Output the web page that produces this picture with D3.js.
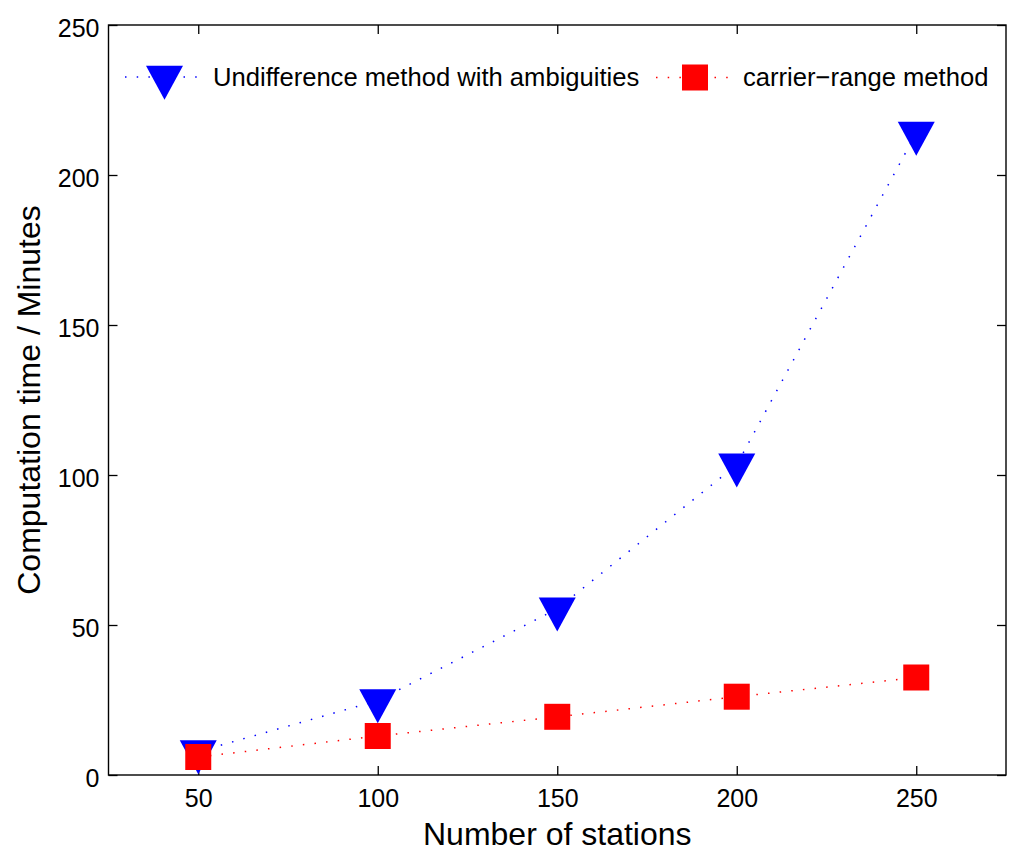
<!DOCTYPE html>
<html>
<head>
<meta charset="utf-8">
<script src="https://d3js.org/d3.v7.min.js"></script>
<style>
	body { margin: 0; background: #fff; }
	svg { display: block; font-family: "Liberation Sans", Arial, sans-serif; }
	.tick text { font-size: 25px; fill: #000; }
</style>
</head>
<body>
<svg id="chart" width="1024" height="861"></svg>
<script>
var stations = [50, 100, 150, 200, 250];
var undifference = [7.8, 24.8, 55.4, 103.4, 214];
var carrierRange = [6.0, 13.0, 19.4, 26.1, 32.5];
var xTicks = [50, 100, 150, 200, 250];
var yTicks = [0, 50, 100, 150, 200, 250];
var seriesNames = ["Undifference method with ambiguities", "carrier\u2212range method"];

var margin = {left: 108.5, right: 18, top: 25, bottom: 86};
var width = 1024 - margin.left - margin.right;
var height = 861 - margin.top - margin.bottom;

var svg = d3.select("#chart");
var g = svg.append("g")
	.attr("transform", "translate(" + margin.left + "," + margin.top + ")");

var x = d3.scaleLinear().domain([25, 275]).range([0, width]);
var y = d3.scaleLinear().domain([0, 250]).range([height, 0]);

// box with inward ticks on all four sides
function styleAxis(sel) {
	sel.select(".domain").remove();
	sel.selectAll(".tick line").attr("stroke", "#000").attr("stroke-width", 1.3);
}

g.append("g")
	.attr("transform", "translate(0," + height + ")")
	.call(d3.axisBottom(x).tickValues(xTicks).tickSizeInner(-9).tickPadding(14))
	.call(styleAxis);

g.append("g")
	.call(d3.axisTop(x).tickValues(xTicks).tickSizeInner(-9).tickFormat(""))
	.call(styleAxis);

g.append("g")
	.call(d3.axisLeft(y).tickValues(yTicks).tickSizeInner(-9).tickPadding(9))
	.call(styleAxis)
	.selectAll(".tick text")
	.attr("dy", "0.44em");

g.append("g")
	.attr("transform", "translate(" + width + ",0)")
	.call(d3.axisRight(y).tickValues(yTicks).tickSizeInner(-9).tickFormat(""))
	.call(styleAxis);

g.append("rect")
	.attr("width", width)
	.attr("height", height)
	.attr("fill", "none")
	.attr("stroke", "#000")
	.attr("stroke-width", 1.4);

// axis labels
svg.append("text")
	.attr("x", margin.left + width / 2)
	.attr("y", 845)
	.attr("text-anchor", "middle")
	.style("font-size", "32px")
	.text("Number of stations");

svg.append("text")
	.attr("transform", "translate(40," + (margin.top + height / 2) + ") rotate(-90)")
	.attr("text-anchor", "middle")
	.style("font-size", "32px")
	.text("Computation time / Minutes");

// series
var line = d3.line()
	.x(function(d) { return x(d[0]); })
	.y(function(d) { return y(d[1]); });

var blueData = d3.zip(stations, undifference);
var redData = d3.zip(stations, carrierRange);

var triW = 37, triH = 34, sq = 26;

function triangle(cx, cy) {
	return "M" + (cx - triW / 2) + "," + (cy - triH / 3) +
		"L" + (cx + triW / 2) + "," + (cy - triH / 3) +
		"L" + cx + "," + (cy + 2 * triH / 3) + "Z";
}

g.append("path")
	.datum(blueData)
	.attr("d", line)
	.attr("fill", "none")
	.attr("stroke", "#0000ff")
	.attr("stroke-width", 1.5)
	.attr("stroke-dasharray", "1.5,10.2");

g.selectAll(".tri")
	.data(blueData)
	.enter().append("path")
	.attr("class", "tri")
	.attr("d", function(d) { return triangle(x(d[0]), y(d[1])); })
	.attr("fill", "#0000ff");

g.append("path")
	.datum(redData)
	.attr("d", line)
	.attr("fill", "none")
	.attr("stroke", "#ff0000")
	.attr("stroke-width", 1.5)
	.attr("stroke-dasharray", "1.5,10.2");

g.selectAll(".sq")
	.data(redData)
	.enter().append("rect")
	.attr("class", "sq")
	.attr("x", function(d) { return x(d[0]) - sq / 2; })
	.attr("y", function(d) { return y(d[1]) - sq / 2; })
	.attr("width", sq)
	.attr("height", sq)
	.attr("fill", "#ff0000");

// legend (no box)
var legend = svg.append("g");

legend.append("line")
	.attr("x1", 125).attr("x2", 205)
	.attr("y1", 77).attr("y2", 77)
	.attr("stroke", "#0000ff")
	.attr("stroke-width", 1.5)
	.attr("stroke-dasharray", "1.5,10.2");

legend.append("path")
	.attr("d", triangle(164.5, 77))
	.attr("fill", "#0000ff");

legend.append("text")
	.attr("x", 213)
	.attr("y", 86)
	.style("font-size", "25.6px")
	.text(seriesNames[0]);

legend.append("line")
	.attr("x1", 656).attr("x2", 728)
	.attr("y1", 77.5).attr("y2", 77.5)
	.attr("stroke", "#ff0000")
	.attr("stroke-width", 1.5)
	.attr("stroke-dasharray", "1.5,10.2");

legend.append("rect")
	.attr("x", 695 - sq / 2)
	.attr("y", 77.5 - sq / 2)
	.attr("width", sq)
	.attr("height", sq)
	.attr("fill", "#ff0000");

legend.append("text")
	.attr("x", 743)
	.attr("y", 86)
	.style("font-size", "25.6px")
	.text(seriesNames[1]);
</script>
</body>
</html>
